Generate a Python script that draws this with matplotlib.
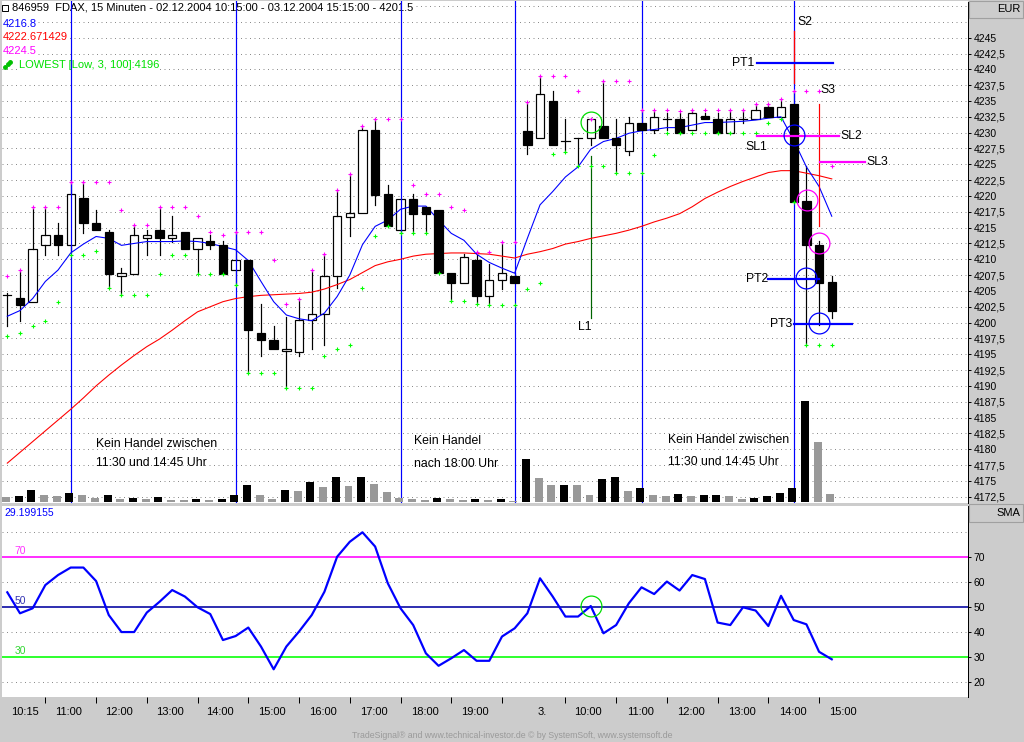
import matplotlib
matplotlib.use("Agg")
import matplotlib.pyplot as plt
from matplotlib.patches import Rectangle
from matplotlib.transforms import blended_transform_factory

plt.rcParams['font.family'] = ['Liberation Sans', 'DejaVu Sans']

# ---------------- data ----------------
opens = [4204.3, 4203.9, 4203.3, 4212.2, 4213.8, 4212.2, 4219.7, 4215.7, 4214.3, 4207.3,
         4207.7, 4213.3, 4214.7, 4213.3, 4214.3, 4211.7, 4212.9, 4212.2, 4208.3, 4209.9,
         4198.3, 4197.3, 4195.5, 4195.4, 4200.4, 4201.3, 4207.3, 4216.7, 4217.3, 4230.5,
         4220.3, 4214.7, 4219.6, 4218.2, 4217.8, 4207.8, 4206.3, 4209.9, 4204.2, 4206.7,
         4207.4, 4230.2, 4229.1, 4235.0, 4228.7, 4229.1, 4229.1, 4231.1, 4229.1, 4227.1,
         4231.5, 4230.4, 4232.1, 4232.1, 4230.5, 4232.6, 4232.1, 4230.0, 4232.1, 4232.1,
         4234.1, 4232.5, 4234.5, 4219.2, 4212.3, 4206.4]
highs = [4204.6, 4208.3, 4218.2, 4218.2, 4215.7, 4222.2, 4222.2, 4217.8, 4214.7, 4208.7,
         4215.4, 4214.6, 4218.2, 4216.8, 4214.3, 4213.3, 4213.8, 4212.9, 4214.3, 4209.9,
         4202.9, 4199.5, 4200.9, 4203.8, 4208.3, 4210.8, 4220.9, 4223.5, 4231.0, 4232.1,
         4221.7, 4219.6, 4220.3, 4218.2, 4217.8, 4207.8, 4210.8, 4211.1, 4209.3, 4212.8,
         4207.8, 4234.9, 4238.9, 4236.6, 4232.1, 4229.1, 4232.1, 4238.1, 4232.1, 4232.5,
         4233.6, 4233.5, 4233.1, 4233.1, 4233.6, 4233.1, 4233.1, 4233.6, 4233.6, 4234.6,
         4234.6, 4235.3, 4236.6, 4224.7, 4212.9, 4207.4]
lows = [4199.4, 4200.3, 4203.2, 4210.7, 4210.7, 4211.3, 4214.2, 4214.6, 4205.4, 4204.3,
        4207.7, 4210.7, 4210.7, 4212.7, 4211.7, 4207.7, 4211.7, 4207.7, 4205.9, 4192.0,
        4194.7, 4195.9, 4189.6, 4194.7, 4195.9, 4196.4, 4205.4, 4213.7, 4217.3, 4218.6,
        4215.2, 4214.2, 4214.1, 4214.3, 4207.8, 4203.4, 4206.3, 4202.9, 4202.7, 4205.3,
        4206.3, 4226.6, 4229.1, 4228.1, 4227.0, 4224.7, 4228.1, 4229.1, 4223.6, 4226.5,
        4230.4, 4230.0, 4230.5, 4230.0, 4230.5, 4232.1, 4230.0, 4230.0, 4231.5, 4232.1,
        4232.5, 4232.5, 4219.1, 4196.5, 4199.6, 4200.8]
closes = [4204.3, 4202.8, 4211.7, 4213.8, 4212.2, 4220.3, 4215.7, 4214.6, 4207.7, 4207.8,
          4213.8, 4213.8, 4213.3, 4213.8, 4211.7, 4213.3, 4212.2, 4207.7, 4209.9, 4198.8,
          4197.3, 4195.9, 4195.9, 4200.4, 4201.3, 4207.4, 4216.8, 4217.3, 4230.5, 4220.2,
          4215.2, 4219.6, 4217.2, 4217.2, 4207.8, 4206.3, 4210.3, 4204.2, 4206.8, 4207.8,
          4206.3, 4228.1, 4236.1, 4228.1, 4228.7, 4229.1, 4232.1, 4229.1, 4228.1, 4231.5,
          4230.4, 4232.5, 4232.1, 4230.0, 4233.1, 4232.1, 4230.0, 4232.1, 4232.1, 4233.6,
          4232.5, 4234.1, 4219.1, 4212.2, 4206.3, 4201.9]
ma_fast = [4201.0, 4201.9, 4203.8, 4206.5, 4208.3, 4211.0, 4212.4, 4213.6, 4213.3, 4212.2,
           4212.5, 4212.8, 4212.8, 4212.8, 4212.9, 4212.8, 4212.5, 4212.0, 4211.5, 4209.8,
           4206.5, 4203.3, 4201.2, 4200.6, 4200.3, 4201.5, 4204.1, 4207.5, 4212.3, 4215.2,
           4216.2, 4217.9, 4218.4, 4218.4, 4216.2, 4214.1, 4213.0, 4210.8, 4209.5, 4208.6,
           4207.8, 4213.3, 4218.6, 4220.7, 4223.0, 4224.6, 4227.4, 4228.6, 4229.1, 4229.9,
           4230.3, 4230.5, 4230.8, 4230.8, 4231.2, 4231.6, 4231.6, 4231.7, 4231.8, 4232.0,
           4232.3, 4232.5, 4228.8, 4224.6, 4221.5, 4216.8]
ma_slow = [4177.8, 4179.5, 4181.2, 4182.9, 4184.6, 4186.3, 4188.1, 4190.0, 4191.7, 4193.3,
           4194.8, 4196.2, 4197.4, 4198.8, 4200.3, 4201.7, 4202.5, 4203.3, 4203.8, 4204.1,
           4204.3, 4204.4, 4204.5, 4204.6, 4204.8, 4205.3, 4206.0, 4206.8, 4207.9, 4209.0,
           4209.6, 4210.0, 4210.5, 4210.8, 4210.9, 4211.0, 4211.0, 4210.9, 4210.8, 4210.5,
           4210.2, 4210.8, 4211.2, 4211.7, 4212.4, 4212.8, 4213.3, 4213.7, 4214.1, 4214.6,
           4215.2, 4215.9, 4216.5, 4217.2, 4218.3, 4219.6, 4220.6, 4221.5, 4222.3, 4223.0,
           4223.7, 4224.0, 4224.0, 4223.6, 4223.2, 4222.7]
highest3 = [4207.3, 4208.3, 4218.2, 4218.2, 4218.2, 4222.2, 4222.2, 4222.2, 4222.2, 4217.8,
            4215.4, 4215.4, 4218.2, 4218.2, 4218.2, 4216.8, 4214.3, 4213.8, 4214.3, 4214.3,
            4214.3, 4209.9, 4202.9, 4203.8, 4208.3, 4210.8, 4220.9, 4223.5, 4231.0, 4232.1,
            4232.1, 4232.1, 4221.7, 4220.3, 4220.3, 4218.2, 4217.8, 4211.1, 4211.1, 4212.8,
            4212.8, 4234.9, 4238.9, 4238.9, 4238.9, 4236.6, 4232.1, 4238.1, 4238.1, 4238.1,
            4233.6, 4233.6, 4233.6, 4233.5, 4233.6, 4233.6, 4233.6, 4233.6, 4233.6, 4234.6,
            4234.6, 4235.3, 4236.6, 4236.6, 4236.6, 4224.7]
lowest3 = [4197.9, 4198.3, 4199.4, 4200.3, 4203.2, 4210.7, 4210.7, 4211.3, 4205.4, 4204.3,
           4204.3, 4204.3, 4207.7, 4210.7, 4210.7, 4207.7, 4207.7, 4207.7, 4205.9, 4192.0,
           4192.0, 4192.0, 4189.6, 4189.6, 4189.6, 4194.7, 4195.9, 4196.4, 4205.4, 4213.7,
           4215.2, 4214.2, 4214.1, 4214.1, 4207.8, 4203.4, 4203.4, 4202.9, 4202.7, 4202.7,
           4202.7, 4205.3, 4206.3, 4226.6, 4227.0, 4224.7, 4224.7, 4224.7, 4223.6, 4223.6,
           4223.6, 4226.5, 4230.0, 4230.0, 4230.0, 4230.0, 4230.0, 4230.0, 4230.0, 4230.0,
           4231.5, 4232.1, 4219.1, 4196.5, 4196.5, 4196.5]
volume = [500, 570, 1170, 670, 570, 870, 670, 370, 670, 270,
          370, 270, 470, 170, 170, 270, 170, 270, 670, 1670,
          670, 270, 1170, 1070, 2000, 1500, 2500, 1600, 2500, 1800,
          1000, 400, 300, 200, 400, 300, 200, 300, 200, 300,
          100, 4270, 2370, 1670, 1700, 1670, 670, 2270, 2470, 1070,
          1370, 670, 570, 770, 570, 670, 690, 570, 270, 370,
          570, 870, 1370, 10070, 5970, 770]
rsi = [56.0, 47.6, 49.6, 58.9, 62.9, 65.9, 65.9, 60.5, 46.9, 40.1,
       40.1, 47.9, 52.2, 56.9, 54.3, 50.0, 47.3, 36.9, 38.5, 41.9,
       34.3, 25.2, 34.3, 40.3, 46.9, 56.2, 70.2, 76.2, 80.0, 74.3,
       59.6, 49.6, 42.9, 31.6, 26.6, 29.6, 32.9, 28.6, 28.6, 38.3,
       41.6, 47.6, 61.6, 54.3, 46.3, 46.3, 50.5, 39.6, 42.9, 51.6,
       58.0, 55.3, 60.3, 56.7, 62.9, 61.3, 43.9, 42.9, 50.0, 48.7,
       42.5, 54.6, 44.9, 43.2, 32.2, 29.2]

tick_bars = [3, 7, 11, 15, 19, 23, 27, 31, 35, 39, 44, 48, 52, 56, 60, 64]
time_labels = ["10:15", "11:00", "12:00", "13:00", "14:00", "15:00", "16:00", "17:00",
               "18:00", "19:00", "3.", "10:00", "11:00", "12:00", "13:00", "14:00", "15:00"]
time_label_bars = [1.4, 4.8, 8.8, 12.8, 16.8, 20.9, 24.9, 28.9, 32.9, 36.9,
                   42.2, 45.8, 49.9, 53.9, 57.9, 61.9, 65.9]
session_lines = [5, 18, 31, 40, 50, 62]

# annotations: (text, bar, price)
notes = [("Kein Handel zwischen", 7.0, 4180.8), ("11:30 und 14:45 Uhr", 7.0, 4177.8),
         ("Kein Handel", 32.1, 4181.3), ("nach 18:00 Uhr", 32.1, 4177.7),
         ("Kein Handel zwischen", 52.1, 4181.4), ("11:30 und 14:45 Uhr", 52.1, 4178.0),
         ("S2", 62.3, 4247.5), ("S3", 64.1, 4236.7), ("SL1", 58.2, 4227.8),
         ("SL2", 65.7, 4229.5), ("SL3", 67.7, 4225.3), ("PT1", 57.1, 4241.0),
         ("PT2", 58.2, 4206.9), ("PT3", 60.1, 4199.8), ("L1", 45.0, 4199.3)]
# target / stop levels: (start bar, end bar, price)
pt_levels = [(59.1, 65.1, 4241.0), (60.0, 64.0, 4206.9), (62.0, 66.6, 4199.7)]
sl_levels = [(59.1, 65.6, 4229.4), (64.1, 67.6, 4225.3)]
blue_circles = [(62.0, 4229.6), (63.0, 4207.0), (64.0, 4200.0)]
magenta_circles = [(63.05, 4219.4), (64.0, 4212.5)]
green_circle = (46.0, 4231.7)
green_circle_rsi = (46.0, 50.5)
entry_line = (46.0, 4200.7, 4226.3)
red_stop_line = (64.0, 4215.3, 4234.5)
red_s2_line = (62.0, 4237.8, 4246.1)

# ---------------- figure ----------------
W, H = 1024, 742
GRAY = '#cccccc'
fig = plt.figure(figsize=(W / 100, H / 100), dpi=100, facecolor=GRAY)
PX = 0.72  # one pixel in points

n = len(closes)
xs = list(range(n))
xl = (-0.418, -0.418 + 966 / 12.684)

ax = fig.add_axes([2 / W, 1 - 503 / H, 966 / W, 502 / H])
axv = ax.twinx()

ax.set_xlim(*xl)
ax.set_ylim(4171.5, 4250.8)
ax.set_facecolor('white')
for s in ['top', 'left', 'bottom']:
    ax.spines[s].set_visible(False)
ax.spines['right'].set_linestyle((0, (1, 1)))
ax.spines['right'].set_linewidth(PX)
ax.set_xticks([])
yt = [4172.5 + 2.5 * k for k in range(30)]
ax.yaxis.tick_right()
ax.yaxis.set_label_position('right')
ax.set_yticks(yt)
ax.set_yticklabels([f"{v:g}".replace('.', ',') for v in yt])
ax.tick_params(axis='y', which='both', left=False, labelleft=False, right=True, labelright=True,
               direction='out', length=2.5, width=PX, pad=1.5, labelsize=7.5)
for v in yt + [4247.5, 4250.0]:
    ax.axhline(v, color='#8c8c8c', lw=PX, ls=(0, (1, 3.5)), zorder=0.5)

# header texts
def hdr(x, y, s, c, **kw):
    ax.text((x - 2) / 966, (503 - y) / 502, s, color=c, fontsize=8, ha='left', va='center',
            transform=ax.transAxes, zorder=1,
            bbox=dict(fc='white', ec='none', pad=0.6), **kw)

hdr(12, 8, "846959  FDAX, 15 Minuten - 02.12.2004 10:15:00 - 03.12.2004 15:15:00 - 4201.5", 'black')
hdr(3, 24, "4216.8", '#0000ff')
hdr(3, 37.5, "4222.671429", '#ff0000')
hdr(3, 51, "4224.5", '#ff00ff')
hdr(19, 65, "LOWEST [Low, 3, 100]:4196", '#00e000')
ax.plot([(5 - 2) / 966, (8 - 2) / 966, (10 - 2) / 966], [(503 - 67) / 502, (503 - 64) / 502, (503 - 62) / 502],
        marker='o', ms=2.5, color='#00c000', ls='none', transform=ax.transAxes, zorder=1.2)
ax.plot([(5 - 2) / 966], [(503 - 8) / 502], marker='s', ms=4, mfc='white', mec='black', mew=0.7,
        transform=ax.transAxes, zorder=1.2)

# session lines
for b in session_lines:
    ax.axvline(b, color='#0000ff', lw=PX * 1.2, zorder=2)

# moving averages
ax.plot(xs, ma_slow, color='#ff0000', lw=PX * 1.1, zorder=3)
ax.plot(xs, ma_fast, color='#0000ff', lw=PX * 1.1, zorder=3)

# candles
bw = 0.66
for i in range(n):
    o, h, l, c = opens[i], highs[i], lows[i], closes[i]
    top, bot = max(o, c), min(o, c)
    ax.plot([i, i], [top, h], color='black', lw=PX * 1.2, zorder=1.8)
    ax.plot([i, i], [l, bot], color='black', lw=PX * 1.2, zorder=1.8)
    if abs(o - c) < 0.05:
        ax.plot([i - bw / 2, i + bw / 2], [o, o], color='black', lw=PX * 1.2, zorder=4)
    elif c > o:
        ax.add_patch(Rectangle((i - bw / 2, bot), bw, top - bot, fc='white', ec='black',
                               lw=PX * 1.2, zorder=1.5))
    else:
        ax.add_patch(Rectangle((i - bw / 2, bot), bw, top - bot, fc='black', ec='black',
                               lw=PX * 1.2, zorder=4))

ax.plot(xs, highest3, ls='none', marker='+', ms=3.2, mew=0.8, color='#ff00ff', zorder=5)
ax.plot(xs, lowest3, ls='none', marker='+', ms=3.2, mew=0.8, color='#00ff00', zorder=5)

# trade annotations
ax.plot([entry_line[0]] * 2, entry_line[1:], color='#006400', lw=PX * 1.2, zorder=2.5)
ax.plot([red_stop_line[0]] * 2, red_stop_line[1:], color='#ff0000', lw=PX * 1.2, zorder=5)
ax.plot([red_s2_line[0]] * 2, red_s2_line[1:], color='#ff0000', lw=PX * 1.3, zorder=5)
for x0, x1, p in pt_levels:
    ax.plot([x0, x1], [p, p], color='#0000ff', lw=PX * 2.2, zorder=6)
for x0, x1, p in sl_levels:
    ax.plot([x0, x1], [p, p], color='#ff00ff', lw=PX * 2.2, zorder=6)
for b, p in blue_circles:
    ax.plot([b], [p], marker='o', ms=15, mfc='none', mec='#0000ff', mew=0.9, zorder=7)
for b, p in magenta_circles:
    ax.plot([b], [p], marker='o', ms=15, mfc='none', mec='#ff00ff', mew=0.9, zorder=7)
ax.plot([green_circle[0]], [green_circle[1]], marker='o', ms=15, mfc='none', mec='#00dd00',
        mew=0.9, zorder=7)
for s, b, p in notes:
    ax.text(b, p, s, fontsize=8.8, ha='left', va='center', color='black', zorder=8)

# volume (twin axis)
axv.set_xlim(*xl)
axv.set_ylim(-130, 50070)
axv.axis('off')
vcols = ['#999999'] + ['black' if volume[i] > volume[i - 1] else '#999999' for i in range(1, n)]
axv.bar([x - 0.1 for x in xs], volume, width=0.63, color=vcols, zorder=2)

# header boxes on right strip
fig.patches.append(Rectangle((969 / W, 1 - 18 / H), 54 / W, 17 / H, transform=fig.transFigure,
                             fc=GRAY, ec='#a0a0a0', lw=0.8))
fig.text(1020 / W, 1 - 9 / H, "EUR", ha='right', va='center', fontsize=8)

# ---------------- lower panel ----------------
ax2 = fig.add_axes([2 / W, 1 - 697 / H, 966 / W, 191 / H])
ax2.set_xlim(*xl)
ax2.set_ylim(14.12, 90.52)
ax2.set_facecolor('white')
for s in ['top', 'left', 'bottom']:
    ax2.spines[s].set_visible(False)
ax2.spines['right'].set_linestyle((0, (1, 1)))
ax2.spines['right'].set_linewidth(PX)
ax2.yaxis.tick_right()
ax2.set_yticks([20, 30, 40, 50, 60, 70])
ax2.tick_params(axis='y', direction='out', length=2.5, width=PX, pad=1.5, labelsize=7.5)
ax2.set_xticks(tick_bars)
ax2.set_xticklabels([])
ax2.tick_params(axis='x', direction='out', length=4.5, width=PX, color='black')
for v in [20, 40, 60, 80]:
    ax2.axhline(v, color='#8c8c8c', lw=PX, ls=(0, (1, 3.5)), zorder=0.5)
ax2.axhline(70, color='#ff00ff', lw=PX * 1.6, zorder=1)
ax2.axhline(50, color='#0000a0', lw=PX * 1.6, zorder=1)
ax2.axhline(30, color='#00ff00', lw=PX * 1.6, zorder=1)
ax2.plot(xs, rsi, color='#0000ff', lw=PX * 2.2, zorder=3)
ax2.plot([green_circle_rsi[0]], [green_circle_rsi[1]], marker='o', ms=15, mfc='none',
         mec='#00dd00', mew=0.9, zorder=4)
tr = blended_transform_factory(ax2.transData, ax2.transAxes)
ax2.text(0.6, 72.5, "70", color='#ff00ff', fontsize=7.5, ha='left', va='center', alpha=0.8)
ax2.text(0.6, 52.5, "50", color='#0000a0', fontsize=7.5, ha='left', va='center', alpha=0.8)
ax2.text(0.6, 32.5, "30", color='#00cc00', fontsize=7.5, ha='left', va='center', alpha=0.8)
ax2.text(2 / 966, 0.965, "29.199155", color='#0000ff', fontsize=7.5, ha='left', va='center',
         transform=ax2.transAxes)
for s, b in zip(time_labels, time_label_bars):
    ax2.text(b, -0.08, s, transform=tr, ha='center', va='center', fontsize=8, clip_on=False)

fig.patches.append(Rectangle((969 / W, 1 - 522 / H), 54 / W, 18 / H, transform=fig.transFigure,
                             fc=GRAY, ec='#a0a0a0', lw=0.8))
fig.text(1020 / W, 1 - 513 / H, "SMA", ha='right', va='center', fontsize=8)

fig.text(0.5, 1 - 736 / H,
         "TradeSignal\u00ae and www.technical-investor.de \u00a9 by SystemSoft, www.systemsoft.de",
         ha='center', va='center', fontsize=6.3, color='#9a9a9a')

fig.savefig("out.png", dpi=100, facecolor=GRAY)
